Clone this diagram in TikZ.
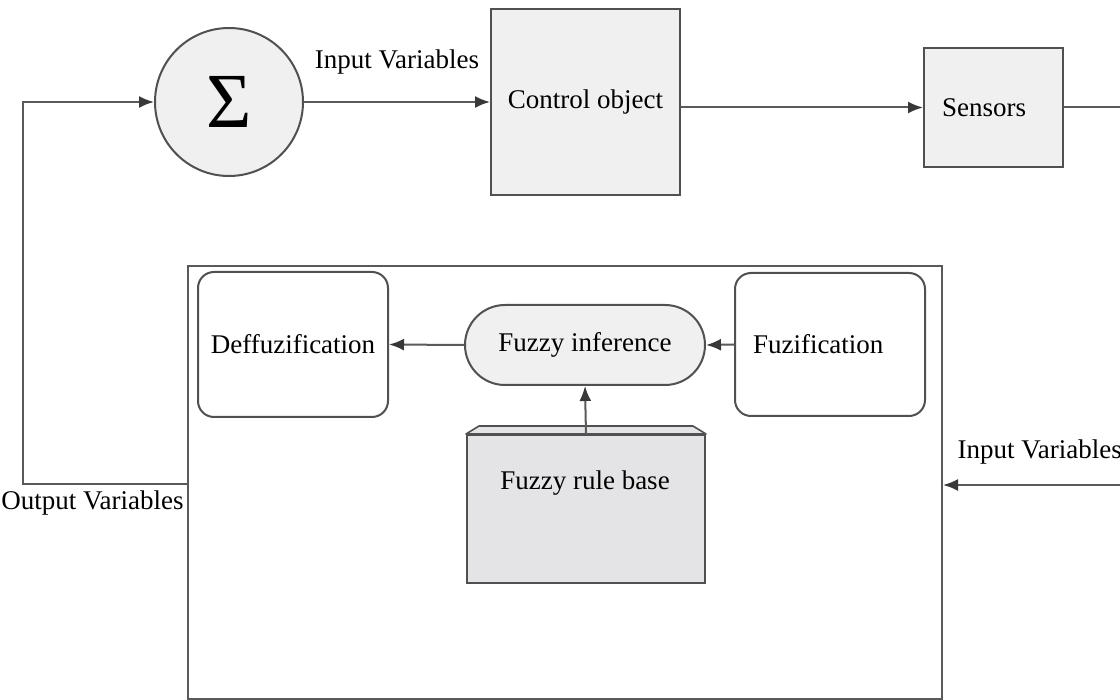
\documentclass[tikz,border=0pt]{standalone}
\usepackage{fontspec}
\setmainfont{Liberation Serif}
\usetikzlibrary{arrows.meta}
\definecolor{boxfill}{HTML}{F0F0F0}
\definecolor{rulefill}{HTML}{E4E4E6}
\definecolor{edge}{HTML}{505050}
\definecolor{wire}{HTML}{5A5A5A}
\definecolor{tip}{HTML}{383838}
\begin{document}
\begin{tikzpicture}[x=1pt,y=-1pt,
  every node/.style={font=\fontsize{27}{31}\selectfont, text=black},
  blk/.style={draw=edge, line width=2pt, fill=boxfill, rectangle, inner sep=0pt},
  rbox/.style={draw=edge, line width=2pt, fill=white, rectangle, rounded corners=16pt, inner sep=0pt},
  wirel/.style={draw=wire, line width=2pt},
  arr/.style={wirel, -{Latex[length=15pt,width=12pt,color=tip]}}
]
\useasboundingbox (0,0) rectangle (1120,700);
\fill[white] (0,0) rectangle (1120,700);

% top row
\node[blk, circle, minimum size=148pt] (sum) at (229,102) {\fontsize{78}{78}\selectfont Σ};
\node[blk, minimum width=189pt, minimum height=186pt] (ctrl) at (585.5,102) {Control object};
\node[blk, minimum width=139pt, minimum height=119pt, text width=103pt, align=left] (sens) at (993.5,107.5) {Sensors};

% big controller frame
\node[draw=wire, line width=2pt, rectangle, minimum width=754pt, minimum height=433pt, inner sep=0pt] (big) at (565,482.5) {};

% inner blocks
\node[rbox, minimum width=190pt, minimum height=145pt] (def) at (293,344.5) {Deffuzification};
\node[rbox, fill=boxfill, rounded corners=40pt, minimum width=240pt, minimum height=80pt] (inf) at (585,345) {Fuzzy inference};
\node[rbox, minimum width=190pt, minimum height=143pt, text width=154pt, align=left] (fuz) at (830,344.5) {Fuzification};

% fuzzy rule base (3D box)
\node[draw=edge, line width=2pt, fill=rulefill, rectangle, minimum width=238pt, minimum height=148pt, inner sep=0pt] (rule) at (586,509) {};
\filldraw[draw=edge, line width=1.6pt, fill=rulefill, line join=round] (rule.north west) -- (479,426) -- (693,426) -- (rule.north east) -- cycle;
\node (ruletxt) at (585,483) {Fuzzy rule base};

% labels
\node (lblin) at (397,62) {Input Variables};
\node[anchor=east] (lblout) at (187,503) {Output Variables};
\node[anchor=west] (lblin2) at (954,452) {Input Variables};

% connectors
\coordinate (fb) at (big.west |- 0,484);
\coordinate (fbL) at (23,484);
\draw[arr] (fb) -- (fbL) |- (sum.west);
\draw[arr] (sum.east) -- (ctrl.west);
\draw[arr] (ctrl.east |- sens.west) -- (sens.west);
\coordinate (outR) at (1125,107.5);
\draw[wirel] (sens.east) -- (outR);
\coordinate (inR) at (1125,485);
\draw[arr] (inR) -- (big.east |- inR);
\draw[arr] (inf.west) -- (def.east);
\draw[arr] (fuz.west) -- (inf.east);
\draw[arr] (rule.north) -- (inf.south);
\end{tikzpicture}
\end{document}
